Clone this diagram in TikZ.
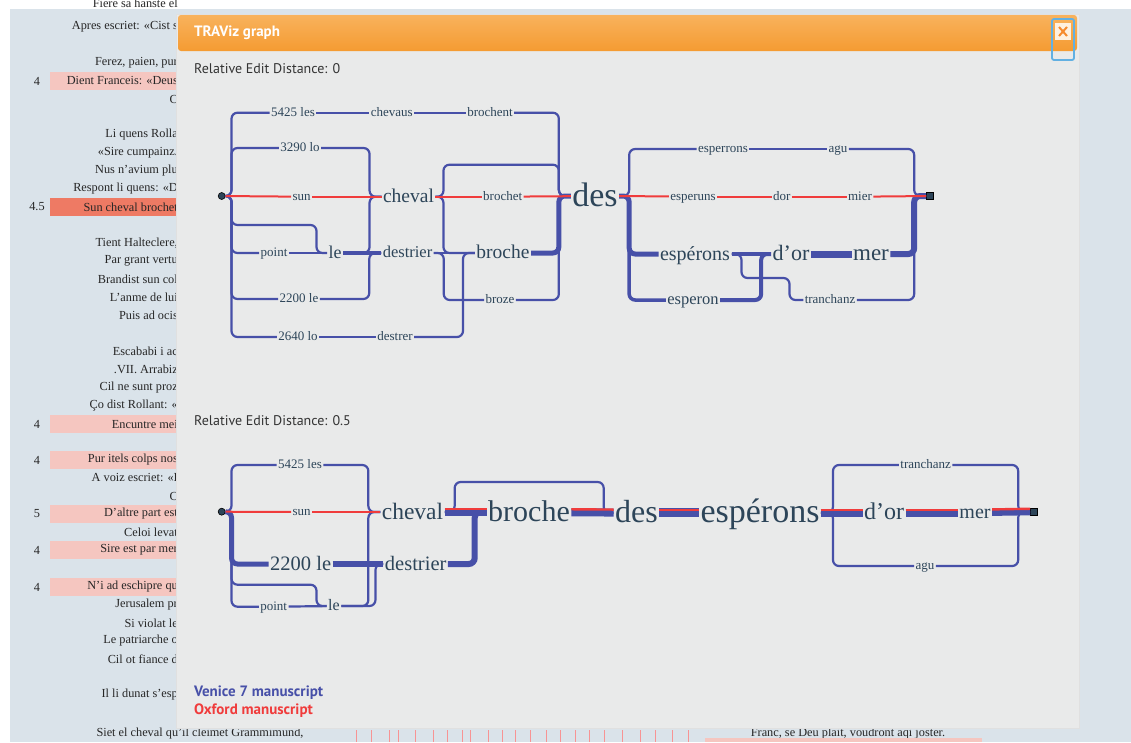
\documentclass[tikz,border=0pt]{standalone}
\usepackage{fontspec}
\setmainfont{Liberation Serif}
\newfontfamily\uifont{PT Sans}
\usetikzlibrary{calc,positioning}
\definecolor{page}{HTML}{DAE3EA}
\definecolor{panel}{HTML}{E9EAEA}
\definecolor{venice}{HTML}{4750A8}
\definecolor{oxford}{HTML}{F03C3C}
\definecolor{wordcol}{HTML}{2D4559}
\definecolor{hlpink}{HTML}{F5C6C0}
\definecolor{hlred}{HTML}{EE7A64}
\definecolor{headtop}{HTML}{F8B25C}
\definecolor{headbot}{HTML}{F59B32}
\definecolor{ring}{HTML}{62B0E2}
\definecolor{uitext}{HTML}{333333}
\tikzset{
    word/.style={inner sep=1.5pt, outer sep=0pt, text=wordcol, text height={0.6*#1pt}, text depth={-0.1*#1pt}, font=\fontsize{#1}{#1}\selectfont},
    ven/.style={draw=venice, line width=2.2pt, rounded corners=6pt},
    venb/.style={draw=venice, line width=#1, rounded corners=6pt},
    oxf/.style={draw=oxford, line width=2pt, rounded corners=6pt},
    oxtop/.style={draw=oxford, line width=2.4pt, transform canvas={yshift=3pt}},
    startpt/.style={circle, draw=black, line width=.6pt, fill=wordcol, minimum size=7pt, inner sep=0pt},
    endpt/.style={rectangle, draw=black, line width=.6pt, fill=wordcol, minimum size=7pt, inner sep=0pt},
    verse/.style={anchor=east, inner sep=0pt, text=black!85, font=\fontsize{12.3}{13}\selectfont},
    lineno/.style={inner sep=0pt, text=black!85, font=\fontsize{12.3}{13}\selectfont},
    uilabel/.style={anchor=west, inner sep=0pt, font=\uifont\fontsize{14}{14}\selectfont, text=uitext},
    legend/.style={anchor=west, inner sep=0pt, font=\uifont\bfseries\fontsize{15}{15}\selectfont}
}

\begin{document}
\begin{tikzpicture}[x=1pt,y=-1pt]
        \useasboundingbox (0,0) rectangle (1131,742);
        \clip (0,0) rectangle (1131,742);
        % page behind the dialog
        \fill[white] (0,0) rectangle (1131,742);
        \fill[page] (10,9) rectangle (1131,742);
        \foreach \y/\n/\c in {81/4/hlpink, 207/4.5/hlred, 424/4/hlpink, 460/4/hlpink, 514/5/hlpink, 550/4/hlpink, 587/4/hlpink}{
            \fill[\c] (50,\y-9) rectangle (180,\y+9);
            \node[lineno] at (37,\y) {\n};
        }
        \foreach \y/\t in {3/{Fiere sa hanste el}, 27/{Apres escriet: «Cist s}, 63/{Ferez, paien, pur}, 81/{Dient Franceis: «Deus}, 99/{C},
            135/{Li quens Rolla}, 153/{«Sire cumpainz.}, 171/{Nus n'avium plu}, 189/{Respont li quens: «D}, 207/{Sun cheval brochet},
            243/{Tient Halteclere,}, 261/{Par grant vertu}, 279/{Brandist sun col}, 297/{L'anme de lui}, 315/{Puis ad ocis},
            351/{Escababi i ac}, 369/{.VII. Arrabiz}, 388/{Cil ne sunt proz}, 406/{Ço dist Rollant: «}, 424/{Encuntre mei},
            460/{Pur itels colps nos}, 478/{A voiz escriet: «I}, 496/{C}, 514/{D'altre part est}, 532/{Celoi levat},
            550/{Sire est par mer}, 587/{N'i ad eschipre qu}, 605/{Jerusalem pr}, 623/{Si violat le}, 641/{Le patriarche o},
            659/{Cil ot fiance d}, 695/{Il li dunat s'esp}}{
            \node[verse] at (178,\y) {\t};
        }
        \node[verse, anchor=center] (lastverse) at (200,734) {Siet el cheval qu'il cleimet Grammimund,};
        \node[verse, anchor=center] (rightverse) at (848,734) {Franc, se Deu plait, voudront aqi joster.};
        \fill[hlpink] (705,738) rectangle (982,742);
        \foreach \x in {356,371,389,398,415,433,447,462,470,488,502,515,530,546,560,575,589,604,622,640,655,672,688}
            \draw[oxford!55, line width=.5pt] (\x,730) -- (\x,742);
        % dialog
        \draw[black!12, fill=panel] (176,14) rectangle (1079,728);
        \shade[top color=headtop, bottom color=headbot, rounded corners=3pt] (178,15) rectangle (1077,51);
        \node[anchor=west, inner sep=0pt, text=white, font=\uifont\bfseries\fontsize{15}{15}\selectfont] (title) at (194,33) {TRAViz graph};
        \draw[ring, line width=1.8pt, rounded corners=2pt] (1052,19) rectangle (1074,60);
        \fill[white!80!headtop] (1055,23) rectangle (1071,40);
        \draw[headbot!90!red, line width=2pt] (1059,27) -- (1067,36) (1059,36) -- (1067,27);
        \node[uilabel] (dist1) at (194,69) {Relative Edit Distance: 0};
        \node[uilabel] (dist2) at (194,421) {Relative Edit Distance: 0.5};
        \node[legend, text=venice] (venleg) at (194,693) {Venice 7 manuscript};
        \node[legend, text=oxford] (oxleg) at (194,711) {Oxford manuscript};

        % graph for distance 0
        \node[startpt] (astart) at (221.7,196) {};
        \node[word=13] (a5425) at (293,112.7) {5425 les};
        \node[word=13] (achevaus) at (391.7,112.7) {chevaus};
        \node[word=13] (abrochent) at (490,112.7) {brochent};
        \node[word=13] (a3290) at (300,148) {3290 lo};
        \node[word=13] (asun) at (301.7,196.7) {sun};
        \node[word=19.5] (acheval) at (408.5,196.7) {cheval};
        \node[word=13] (apoint) at (274,253) {point};
        \node[word=18] (ale) at (335,253) {le};
        \node[word=16.5] (adestrier) at (407.5,253) {destrier};
        \node[word=13] (a2200) at (299,299) {2200 le};
        \node[word=13] (a2640) at (298,337) {2640 lo};
        \node[word=13] (adestrer) at (395,337) {destrer};
        \node[word=13] (abrochet) at (502.7,196.7) {brochet};
        \node[word=19.5] (abroche) at (503,253) {broche};
        \node[word=13] (abroze) at (500,300) {broze};
        \node[word=34] (ades) at (595,196) {des};
        \node[word=13] (aesperrons) at (723,149) {esperrons};
        \node[word=13] (aagu) at (838,149) {agu};
        \node[word=13] (aesperuns) at (693,196.7) {esperuns};
        \node[word=13] (ador) at (781.7,196.7) {dor};
        \node[word=13] (amier) at (860,196.7) {mier};
        \node[endpt] (aend) at (930,196) {};
        \node[word=20] (aesperons) at (695,254) {espérons};
        \node[word=22] (adoro) at (791,254) {d’or};
        \node[word=23] (amer) at (871,254) {mer};
        \node[word=16.5] (aesperon) at (693,300) {esperon};
        \node[word=13] (atranchanz) at (830,300) {tranchanz};

        % Venice branches out of the start
        \draw[ven] (astart.east) -- ++(6,0) |- (a5425);
        \draw[ven] (astart.east) -- ++(6,0) |- (a3290);
        \draw[ven] (astart.east) -- ++(6,0) |- (apoint);
        \draw[ven] (astart.east) -- ++(6,0) |- (a2200);
        \draw[ven] (astart.east) -- ++(6,0) |- (a2640);
        \draw[ven] (astart.east) -- ++(6,0) |- ++(85,29) |- (ale.west);
        \draw[ven] (a5425) -- (achevaus);
        \draw[ven] (achevaus) -- (abrochent);
        \draw[ven] (abrochent.east) -| ([xshift=-12pt]ades.west) -- (ades.west);
        \draw[ven] (a3290.east) -| ([xshift=-12pt]acheval.west) -- (acheval.west);
        \draw[ven] (apoint) -- (ale);
        \draw[ven] (ale.east) -| ([xshift=-12pt]acheval.west) -- (acheval.west);
        \draw[venb=4pt] (ale) -- (adestrier);
        \draw[ven] (a2200.east) -| ([xshift=-12pt]adestrier.west) -- (adestrier.west);
        \draw[ven] (a2640) -- (adestrer);
        \draw[ven] (adestrer.east) -| ([xshift=-12pt]abroche.west) -- (abroche.west);
        \draw[ven] (acheval.east) -- ++(8,0) |- ++(80,-32) -| ([xshift=-12pt]ades.west) -- (ades.west);
        \draw[ven] (acheval.east) -- ++(8,0) |- (abroche);
        \draw[ven] (adestrier) -- (abroche);
        \draw[ven] (adestrier.east) -- ++(10,0) |- (abroze);
        \draw[venb=5pt] (abroche.east) -| ([xshift=-12pt]ades.west) -- (ades.west);
        \draw[ven] (abroze.east) -| ([xshift=-12pt]ades.west) -- (ades.west);
        \draw[ven] (ades.east) -- ++(10,0) |- (aesperrons);
        \draw[ven] (aesperrons) -- (aagu);
        \draw[ven] (aagu.east) -| ([xshift=-12pt]aend.west) -- (aend.west);
        \draw[venb=5pt] (ades.east) -- ++(10,0) |- (aesperons);
        \draw[venb=3.5pt] (ades.east) -- ++(10,0) |- (aesperon);
        \draw[venb=4pt] (aesperons) -- (adoro);
        \draw[venb=4pt] (aesperon.east) -| ([xshift=-10pt]adoro.west) -- (adoro.west);
        \draw[ven] (aesperons.east) -- ++(10,0) |- ++(48,24) |- (atranchanz);
        \draw[venb=7pt] (adoro) -- (amer);
        \draw[venb=6pt] (amer.east) -| ([xshift=-12pt]aend.west) -- (aend.west);
        \draw[ven] (atranchanz.east) -| ([xshift=-12pt]aend.west) -- (aend.west);
        % Oxford reading
        \draw[oxf] (astart) -- (asun);
        \draw[oxf] (asun) -- (acheval);
        \draw[oxf] (acheval) -- (abrochet);
        \draw[oxf] (abrochet) -- (ades);
        \draw[oxf] (ades.east) -- (aesperuns);
        \draw[oxf] (aesperuns) -- (ador);
        \draw[oxf] (ador) -- (amier);
        \draw[oxf] (amier) -- (aend);

        % graph for distance 0.5
        \node[startpt] (bstart) at (221.7,511.7) {};
        \node[word=13] (b5425) at (300,465) {5425 les};
        \node[word=13] (bsun) at (301.7,512) {sun};
        \node[word=23.5] (bcheval) at (412.5,512) {cheval};
        \node[word=20.5] (b2200) at (300.7,564) {2200 le};
        \node[word=20.5] (bdestrier) at (415.7,564) {destrier};
        \node[word=13] (bpoint) at (273.7,606.7) {point};
        \node[word=16] (ble) at (334,606) {le};
        \node[word=30] (bbroche) at (529,512) {broche};
        \node[word=32] (bdes) at (636.5,512.7) {des};
        \node[word=34] (besperons) at (760,512.7) {espérons};
        \node[word=24] (bdoro) at (884,512.7) {d’or};
        \node[word=20] (bmer) at (975,512.7) {mer};
        \node[word=13] (btranchanz) at (925.7,465) {tranchanz};
        \node[word=13] (bagu) at (925,566) {agu};
        \node[endpt] (bend) at (1034,511.7) {};

        \draw[ven] (bstart.east) -- ++(6,0) |- (b5425);
        \draw[venb=5pt] (bstart.east) -- ++(6,0) |- (b2200);
        \draw[ven] (bstart.east) -- ++(6,0) |- (bpoint);
        \draw[ven] (bstart.east) -- ++(6,0) |- ++(85,73) |- (ble.west);
        \draw[ven] (b5425.east) -| ([xshift=-12pt]bcheval.west) -- (bcheval.west);
        \draw[ven] (bpoint) -- (ble);
        \draw[venb=6pt] (b2200) -- (bdestrier);
        \draw[ven] (ble.east) -| ([xshift=-12pt]bcheval.west) -- (bcheval.west);
        \draw[ven] (ble.east) -| ([xshift=-8pt]bdestrier.west) -- (bdestrier.west);
        \draw[ven] (bcheval.east) -- ++(10,0) |- ++(50,-30) -| ([xshift=-10pt]bdes.west) -- (bdes.west);
        \draw[venb=6pt] (bdestrier.east) -| ([xshift=-12pt]bbroche.west) -- (bbroche.west);
        \draw[venb=7pt] (bcheval) -- (bbroche);
        \draw[venb=8pt] (bbroche) -- (bdes);
        \draw[venb=9pt] (bdes) -- (besperons);
        \draw[ven] (besperons.east) -- ++(12,0) |- (btranchanz);
        \draw[ven] (btranchanz.east) -| ([xshift=-12pt]bend.west) -- (bend.west);
        \draw[ven] (besperons.east) -- ++(12,0) |- (bagu);
        \draw[ven] (bagu.east) -| ([xshift=-12pt]bend.west) -- (bend.west);
        \draw[venb=8pt] (besperons) -- (bdoro);
        \draw[venb=8pt] (bdoro) -- (bmer);
        \draw[venb=7pt] (bmer) -- (bend);
        % Oxford reading on top
        \draw[oxf] (bstart) -- (bsun);
        \draw[oxf] (bsun) -- (bcheval);
        \draw[oxtop] (bcheval) -- (bbroche);
        \draw[oxtop] (bbroche) -- (bdes);
        \draw[oxtop] (bdes) -- (besperons);
        \draw[oxtop] (besperons) -- (bdoro);
        \draw[oxtop] (bdoro) -- (bmer);
        \draw[oxtop] (bmer) -- (bend);
\end{tikzpicture}
\end{document}
